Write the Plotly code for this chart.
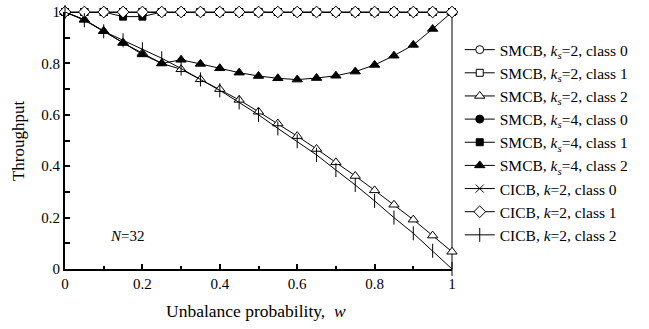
import plotly.graph_objects as go

w = [round(i * 0.05, 2) for i in range(21)]

smcb2_c0 = [1.0] * 21
smcb2_c1 = [1.0] * 21
smcb2_c2 = [1.0, 0.97, 0.925, 0.88, 0.84, 0.80, 0.777, 0.738, 0.70, 0.658, 0.612,
            0.566, 0.517, 0.467, 0.415, 0.362, 0.306, 0.25, 0.192, 0.13, 0.067]
smcb4_c0 = [1.0] * 21
smcb4_c1 = [1.0, 1.0, 1.0, 0.982, 0.982, 1.0, 1.0, 1.0, 1.0, 1.0, 1.0,
            1.0, 1.0, 1.0, 1.0, 1.0, 1.0, 1.0, 1.0, 1.0, 1.0]
smcb4_c2 = [1.0, 0.97, 0.926, 0.88, 0.835, 0.80, 0.814, 0.798, 0.781, 0.764, 0.751,
            0.742, 0.737, 0.743, 0.752, 0.768, 0.794, 0.83, 0.872, 0.934, 1.0]
cicb_c0 = [1.0] * 21
cicb_c1 = [1.0] * 21
cicb_c2 = [1.0, 0.968, 0.925, 0.89, 0.855, 0.82, 0.78, 0.738, 0.695, 0.648, 0.60,
           0.547, 0.497, 0.444, 0.385, 0.327, 0.265, 0.20, 0.139, 0.071, 0.0]

tick_vals = [0, 0.2, 0.4, 0.6, 0.8, 1]
tick_text = ["0", "0.2", "0.4", "0.6", "0.8", "1"]
minor_vals = [0.1, 0.3, 0.5, 0.7, 0.9]

names = [
    "SMCB, <i>k</i><sub><i>s</i></sub>=2, class 0",
    "SMCB, <i>k</i><sub><i>s</i></sub>=2, class 1",
    "SMCB, <i>k</i><sub><i>s</i></sub>=2, class 2",
    "SMCB, <i>k</i><sub><i>s</i></sub>=4, class 0",
    "SMCB, <i>k</i><sub><i>s</i></sub>=4, class 1",
    "SMCB, <i>k</i><sub><i>s</i></sub>=4, class 2",
    "CICB, <i>k</i>=2, class 0",
    "CICB, <i>k</i>=2, class 1",
    "CICB, <i>k</i>=2, class 2",
]
series = [smcb2_c0, smcb2_c1, smcb2_c2, smcb4_c0, smcb4_c1, smcb4_c2, cicb_c0, cicb_c1, cicb_c2]
styles = [
    dict(symbol="circle", color="white", size=8),
    dict(symbol="square", color="white", size=7),
    dict(symbol="triangle-up", color="white", size=9),
    dict(symbol="circle", color="black", size=8),
    dict(symbol="square", color="black", size=7),
    dict(symbol="triangle-up", color="black", size=9),
    dict(symbol="x-thin", color="black", size=8),
    dict(symbol="diamond", color="white", size=9),
    dict(symbol="line-ns", color="black", size=10),
]

fig = go.Figure()
for name, ys, st in zip(names, series, styles):
    fig.add_trace(go.Scatter(
        x=w, y=ys, name=name, mode="lines+markers",
        line=dict(color="black", width=1),
        marker=dict(symbol=st["symbol"], color=st["color"], size=st["size"],
                    line=dict(color="black", width=1)),
        cliponaxis=False,
    ))

font = "Liberation Serif, Times New Roman, serif"
fig.update_layout(
    width=649, height=329,
    margin=dict(l=65, r=197, t=12, b=60),
    paper_bgcolor="white", plot_bgcolor="white",
    font=dict(family=font, size=15, color="black"),
    showlegend=True,
    legend=dict(x=1.02, y=0.918, xanchor="left", yanchor="top",
                font=dict(family=font, size=15.5, color="black"), tracegroupgap=0,
                itemwidth=30, bgcolor="rgba(0,0,0,0)"),
    xaxis=dict(range=[0, 1], tickvals=tick_vals, ticktext=tick_text,
               ticks="inside", ticklen=5, tickwidth=2, tickcolor="black",
               minor=dict(tickvals=minor_vals, ticks="inside",
                          ticklen=3, tickwidth=2, tickcolor="black"),
               showline=True, linecolor="black", linewidth=2,
               showgrid=False, zeroline=False, automargin=False,
               tickfont=dict(family=font, size=15, color="black")),
    yaxis=dict(range=[0, 1], tickvals=tick_vals, ticktext=tick_text,
               ticks="inside", ticklen=5, tickwidth=2, tickcolor="black",
               minor=dict(tickvals=minor_vals, ticks="inside",
                          ticklen=5, tickwidth=2, tickcolor="black"),
               showline=True, linecolor="black", linewidth=2,
               showgrid=False, zeroline=False, automargin=False,
               tickfont=dict(family=font, size=15, color="black")),
    shapes=[
        dict(type="line", xref="paper", yref="paper", x0=1, x1=1, y0=0, y1=1,
             line=dict(color="gray", width=2), layer="below"),
        dict(type="line", xref="paper", yref="paper", x0=0, x1=1, y0=1, y1=1,
             line=dict(color="gray", width=2), layer="below"),
    ],
    annotations=[
        dict(x=0.11, y=0.128, xref="x", yref="y", text="<i>N</i>=32",
             showarrow=False, xanchor="left", font=dict(family=font, size=15, color="black")),
        dict(x=0.493, y=-0.165, xref="paper", yref="paper",
             text="Unbalance probability,  <i>w</i>", showarrow=False,
             xanchor="center", yanchor="middle",
             font=dict(family=font, size=17.5, color="black")),
        dict(x=-0.12, y=0.5, xref="paper", yref="paper", text="Throughput",
             textangle=-90, showarrow=False, xanchor="center", yanchor="middle",
             font=dict(family=font, size=17, color="black")),
    ],
)

fig.write_html("out.html", config={"displayModeBar": False},
               post_script="document.body.style.margin='0';")
